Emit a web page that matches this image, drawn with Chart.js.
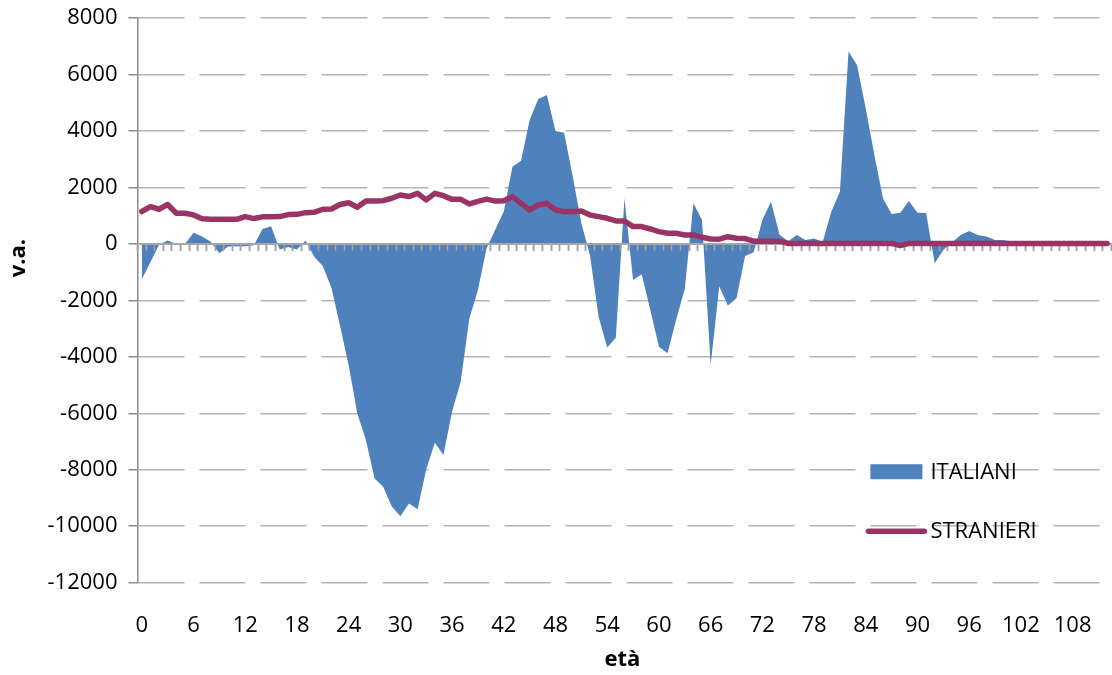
<!DOCTYPE html>
<html lang="it">
<head>
<meta charset="utf-8">
<title>Saldo per età: italiani e stranieri</title>
<script src="https://cdn.jsdelivr.net/npm/chart.js@4/dist/chart.umd.min.js"></script>
<style>
  html, body { margin: 0; padding: 0; background: #ffffff; }
  #wrap { width: 1112px; height: 675px; }
</style>
</head>
<body>
<div id="wrap"><canvas id="chart" width="1112" height="675"></canvas></div>
<script>
// Età (anni compiuti)
const ages = [
  0, 1, 2, 3, 4, 5, 6, 7, 8, 9, 10, 11, 12, 13, 14, 15, 16, 17, 18, 19,
  20, 21, 22, 23, 24, 25, 26, 27, 28, 29, 30, 31, 32, 33, 34, 35, 36, 37, 38, 39,
  40, 41, 42, 43, 44, 45, 46, 47, 48, 49, 50, 51, 52, 53, 54, 55, 56, 57, 58, 59,
  60, 61, 62, 63, 64, 65, 66, 67, 68, 69, 70, 71, 72, 73, 74, 75, 76, 77, 78, 79,
  80, 81, 82, 83, 84, 85, 86, 87, 88, 89, 90, 91, 92, 93, 94, 95, 96, 97, 98, 99,
  100, 101, 102, 103, 104, 105, 106, 107, 108, 109, 110, 111, 112
];

// Valori assoluti – ITALIANI
const italiani = [
  -1250, -650, -30, 120, 0, 0, 400, 260, 80, -330,
  -90, -80, -80, -50, 530, 625, -200, -110, -200, 120,
  -450, -780, -1550, -2900, -4300, -6000, -6950, -8300, -8600, -9300,
  -9650, -9200, -9400, -7980, -7040, -7480, -5940, -4880, -2650, -1630,
  -150, 500, 1150, 2740, 2950, 4390, 5140, 5280, 4000, 3940,
  2390, 730, -400, -2575, -3670, -3320, 1620, -1275, -1075, -2340,
  -3640, -3870, -2690, -1600, 1440, 850, -4290, -1510, -2180, -1925,
  -430, -290, 850, 1500, 330, 100, 320, 140, 190, 80,
  1140, 1850, 6820, 6330, 4800, 3150, 1620, 1060, 1110, 1520,
  1110, 1100, -680, -210, 50, 320, 460, 320, 260, 140,
  140, 80, 40, 30, 20, 10, 10, 5, 0, 0,
  0, 0, 0
];

// Valori assoluti – STRANIERI
const stranieri = [
  1150, 1320, 1230, 1400, 1090, 1090, 1030, 890, 875, 875,
  875, 875, 970, 900, 960, 960, 970, 1040, 1050, 1110,
  1120, 1230, 1240, 1400, 1460, 1300, 1520, 1520, 1535, 1620,
  1735, 1680, 1795, 1560, 1795, 1710, 1580, 1580, 1420, 1510,
  1590, 1520, 1535, 1677, 1440, 1205, 1382, 1440, 1205, 1146,
  1146, 1170, 1027, 968, 909, 815, 815, 615, 615, 531,
  437, 378, 378, 319, 319, 236, 177, 170, 258, 200,
  190, 100, 100, 100, 100, 20, 20, 20, 20, 20,
  20, 20, 20, 20, 20, 20, 20, 20, -60, 20,
  20, 20, 20, 20, 20, 20, 20, 20, 20, 20,
  20, 15, 15, 15, 15, 15, 15, 15, 15, 15,
  15, 15, 15
];

// Etichette mostrate sull'asse delle età e valori dell'asse verticale
const ageTickLabels = ['0', '6', '12', '18', '24', '30', '36', '42', '48', '54',
  '60', '66', '72', '78', '84', '90', '96', '102', '108'];
const valueTicks = [-12000, -10000, -8000, -6000, -4000, -2000, 0, 2000, 4000, 6000, 8000];

const FONT = "'Open Sans', 'DejaVu Sans', sans-serif";
const BLUE = '#4f81bd';
const MAROON = '#9b3466';
const AXIS_GREY = '#8c8c8c';
const GRID_GREY = '#b4b4b4';

Chart.defaults.font.family = FONT;
Chart.defaults.font.size = 22;
Chart.defaults.color = '#000000';

// Asse dello zero ridisegnato sopra l'area, sotto la linea degli stranieri
const zeroAxisOverArea = {
  id: 'zeroAxisOverArea',
  beforeDatasetDraw(chart, args) {
    const ds = chart.data.datasets[args.index];
    if (ds.fill) return;
    const s = chart.scales.x2;
    s.drawGrid(chart.chartArea);
    s.drawBorder();
  }
};

// Titoli degli assi
const axisTitles = {
  id: 'axisTitles',
  afterDraw(chart) {
    const { ctx, chartArea } = chart;
    ctx.save();
    ctx.fillStyle = '#000000';
    ctx.font = 'bold 22px ' + FONT;
    ctx.textAlign = 'center';
    ctx.textBaseline = 'middle';
    ctx.fillText('età', (chartArea.left + chartArea.right) / 2 - 2, chart.height - 15);
    ctx.translate(19, chartArea.top + (chartArea.bottom - chartArea.top) * 0.425);
    ctx.rotate(-Math.PI / 2);
    ctx.fillText('v.a.', 0, 0);
    ctx.restore();
  }
};

// Legenda interna all'area del grafico
const insideLegend = {
  id: 'insideLegend',
  afterDraw(chart) {
    const { ctx, chartArea } = chart;
    const ds = chart.data.datasets;
    const symLeft = chartArea.right - 242;
    const textLeft = chartArea.right - 181;
    const rows = [chartArea.top + 454, chartArea.top + 513];
    ctx.save();
    ctx.font = '22px ' + FONT;
    ctx.textBaseline = 'middle';
    ctx.textAlign = 'left';
    // area
    ctx.fillStyle = ds[0].backgroundColor;
    ctx.fillRect(symLeft + 1, rows[0] - 8, 52, 15);
    ctx.fillStyle = '#000000';
    ctx.fillText(ds[0].label, textLeft, rows[0] + 1);
    // linea
    ctx.strokeStyle = ds[1].borderColor;
    ctx.lineWidth = 5.5;
    ctx.lineCap = 'round';
    ctx.beginPath();
    ctx.moveTo(symLeft - 1, rows[1]);
    ctx.lineTo(symLeft + 55, rows[1]);
    ctx.stroke();
    ctx.fillText(ds[1].label, textLeft, rows[1] + 1);
    ctx.restore();
  }
};

new Chart(document.getElementById('chart'), {
  data: {
    labels: ages.map(String),
    datasets: [
      {
        type: 'line',
        label: 'ITALIANI',
        data: italiani,
        fill: 'origin',
        backgroundColor: BLUE,
        borderColor: BLUE,
        borderWidth: 0,
        pointRadius: 0,
        tension: 0,
        order: 2
      },
      {
        type: 'line',
        label: 'STRANIERI',
        data: stranieri,
        fill: false,
        borderColor: MAROON,
        backgroundColor: MAROON,
        borderWidth: 5.5,
        borderCapStyle: 'round',
        borderJoinStyle: 'round',
        pointRadius: 0,
        tension: 0,
        order: 1
      }
    ]
  },
  options: {
    responsive: false,
    animation: false,
    devicePixelRatio: 1,
    layout: { padding: { top: 18.2, right: 0.6, bottom: 0, left: 0 } },
    plugins: {
      legend: { display: false },
      tooltip: { enabled: false }
    },
    scales: {
      x: {
        type: 'category',
        position: 'bottom',
        offset: true,
        grid: { display: false, drawTicks: false, offset: true },
        border: { display: false },
        ticks: {
          autoSkip: false,
          maxRotation: 0,
          minRotation: 0,
          padding: 30,
          color: '#000000',
          callback(value) {
            const lab = this.getLabelForValue(value);
            return ageTickLabels.includes(lab) ? lab : '';
          }
        },
        afterFit(scale) {
          scale.height = 92.4;
          scale.paddingLeft = 0;
          scale.paddingRight = 0;
        }
      },
      x2: {
        type: 'category',
        axis: 'x',
        position: { y: 0 },
        offset: true,
        grid: {
          display: true,
          offset: true,
          drawOnChartArea: false,
          drawTicks: true,
          tickLength: 6,
          tickColor: '#a0a0a0',
          tickWidth: 1.5
        },
        border: { display: true, color: '#a6a6a6', width: 2 },
        ticks: { display: false },
        afterFit(scale) {
          scale.paddingLeft = 0;
          scale.paddingRight = 0;
        }
      },
      y: {
        type: 'linear',
        position: 'left',
        min: -12000,
        max: 8000,
        afterBuildTicks(scale) {
          scale.ticks = valueTicks.map(v => ({ value: v }));
        },
        grid: {
          color: GRID_GREY,
          lineWidth: 1.5,
          drawTicks: true,
          tickLength: 9,
          tickColor: AXIS_GREY,
          tickWidth: 1.5
        },
        border: { display: true, color: AXIS_GREY, width: 1.5, dash: [46, 15] },
        ticks: {
          padding: 11,
          color: '#000000',
          callback(value) { return String(value); }
        },
        afterFit(scale) {
          scale.width = 137.5;
          scale.paddingTop = 0;
          scale.paddingBottom = 0;
        }
      }
    }
  },
  plugins: [zeroAxisOverArea, axisTitles, insideLegend]
});
</script>
</body>
</html>
